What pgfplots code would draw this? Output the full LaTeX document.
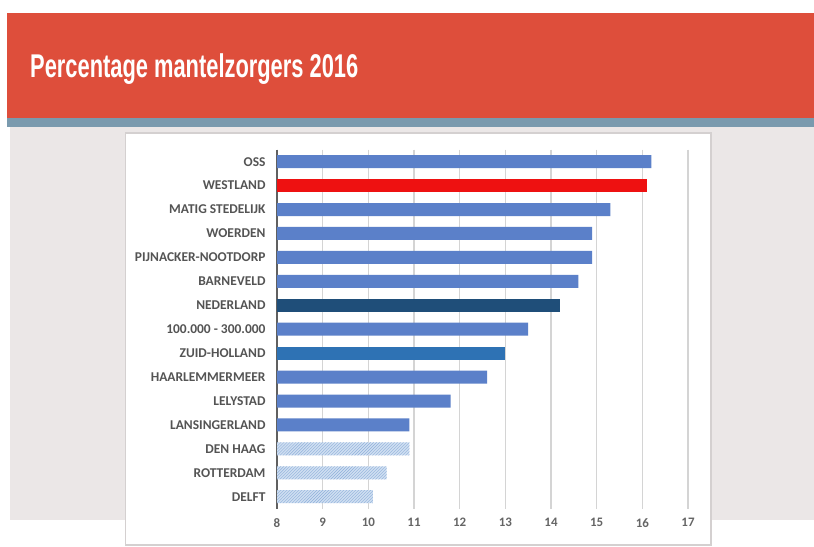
\documentclass[border=0pt]{standalone}
\usepackage{pgfplots}
\pgfplotsset{compat=1.18}
\usepackage{fontspec}
\setmainfont{Carlito}
\newfontfamily\titlefont{Liberation Sans}
\usepackage{graphicx}
\usetikzlibrary{patterns}
\definecolor{headred}{HTML}{DE4E3B}
\definecolor{strip}{HTML}{7A9AAE}
\definecolor{bggrey}{HTML}{EBE7E7}
\definecolor{panelborder}{HTML}{D4D0D0}
\definecolor{mainblue}{HTML}{5B80C9}
\definecolor{wred}{HTML}{EE1111}
\definecolor{darkblue}{HTML}{1F4E79}
\definecolor{zhblue}{HTML}{2E72B4}
\definecolor{hatchfill}{HTML}{CFDEF1}
\definecolor{hatchline}{HTML}{8FB0DA}
\definecolor{labelgrey}{HTML}{545454}
\begin{document}
\begin{tikzpicture}
\fill[white] (0,0) rectangle (814bp,547bp);
\useasboundingbox (0,0) rectangle (814bp,547bp);
\fill[headred] (7bp,429bp) rectangle (814bp,534bp);
\fill[strip] (7bp,420bp) rectangle (814bp,429bp);
\fill[bggrey] (10bp,27bp) rectangle (814bp,420bp);
\filldraw[fill=white, draw=panelborder, line width=1.2bp] (125.5bp,2bp) rectangle (711bp,414bp);
\node[anchor=base west, text=white, inner sep=0pt] at (30bp,469bp)
  {\scalebox{0.665}[1]{\titlefont\bfseries\fontsize{33}{36}\selectfont Percentage mantelzorgers 2016}};
\begin{axis}[
  at={(277bp,38.3bp)}, anchor=south west,
  scale only axis, width=411bp, height=359bp,
  xmin=8, xmax=17, ymin=-0.5, ymax=14.5,
  y dir=reverse,
  xbar, bar width=13bp, bar shift=0pt,
  xtick={8,...,17},
  ytick={0,...,14},
  yticklabels={OSS,WESTLAND,MATIG STEDELIJK,WOERDEN,PIJNACKER-NOOTDORP,BARNEVELD,NEDERLAND,100.000 - 300.000,ZUID-HOLLAND,HAARLEMMERMEER,LELYSTAD,LANSINGERLAND,DEN HAAG,ROTTERDAM,DELFT},
  separate axis lines,
  axis x line*=bottom, axis y line*=left,
  x axis line style={draw=none},
  y axis line style={draw=gray!75!black, line width=1.2bp},
  major tick length=0pt,
  xmajorgrids, ymajorgrids=false,
  grid style={draw=black!17, line width=1.6bp},
  /pgf/number format/assume math mode=true,
  xticklabel style={font=\fontsize{13}{15}\selectfont\bfseries, text=labelgrey!90, yshift=-6bp},
  yticklabel style={font=\fontsize{13.5}{15}\selectfont\bfseries, text=labelgrey, xshift=-8bp},
]
\addplot[fill=mainblue, draw=none] coordinates {(16.2,0) (15.3,2) (14.9,3) (14.9,4) (14.6,5) (13.5,7) (12.6,9) (11.8,10) (10.9,11)};
\addplot[fill=wred, draw=none] coordinates {(16.1,1)};
\addplot[fill=darkblue, draw=none] coordinates {(14.2,6)};
\addplot[fill=zhblue, draw=none] coordinates {(13.0,8)};
\addplot[fill=hatchfill, draw=none, postaction={pattern=north east lines, pattern color=hatchline}] coordinates {(10.9,12) (10.4,13) (10.1,14)};
\end{axis}
\end{tikzpicture}
\end{document}
